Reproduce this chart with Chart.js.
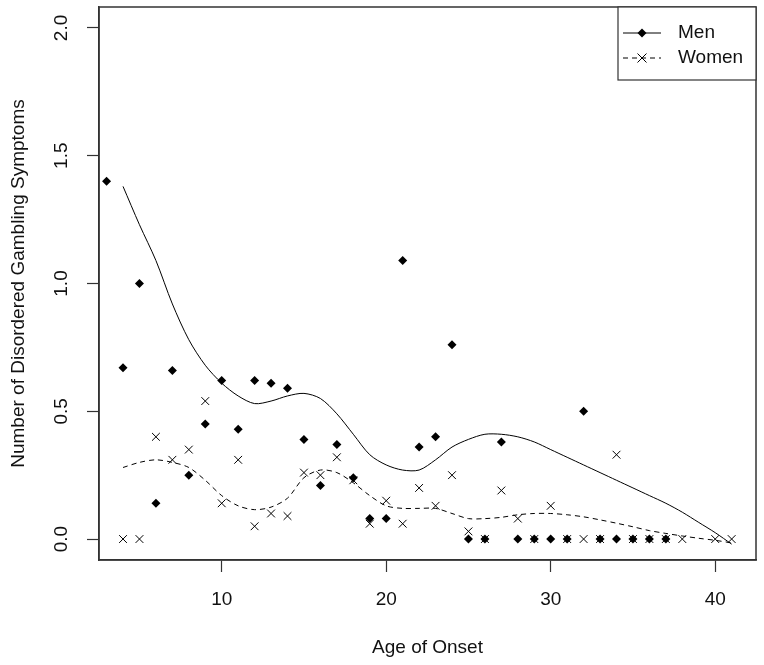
<!DOCTYPE html>
<html>
<head>
<meta charset="utf-8">
<script src="https://cdn.jsdelivr.net/npm/chart.js@4"></script>
<style>
  html, body { margin: 0; padding: 0; background: #fff; }
  #wrap { width: 764px; height: 665px; }
</style>
</head>
<body>
<div id="wrap"><canvas id="grafica" width="764" height="665"></canvas></div>
<script>
// datos
const edadHombres = [3, 4, 5, 6, 7, 8, 9, 10, 11, 12, 13, 14, 15, 16, 17, 18, 19, 20, 21, 22, 23, 24, 25, 26, 27, 28, 29, 30, 31, 32, 33, 34, 35, 36, 37];
const sintomasHombres = [1.40, 0.67, 1.00, 0.14, 0.66, 0.25, 0.45, 0.62, 0.43, 0.62, 0.61, 0.59, 0.39, 0.21, 0.37, 0.24, 0.08, 0.08, 1.09, 0.36, 0.40, 0.76, 0, 0, 0.38, 0, 0, 0, 0, 0.50, 0, 0, 0, 0, 0];

const edadMujeres = [4, 5, 6, 7, 8, 9, 10, 11, 12, 13, 14, 15, 16, 17, 18, 19, 20, 21, 22, 23, 24, 25, 26, 27, 28, 29, 30, 31, 32, 33, 34, 35, 36, 37, 38, 40, 41];
const sintomasMujeres = [0, 0, 0.40, 0.31, 0.35, 0.54, 0.14, 0.31, 0.05, 0.10, 0.09, 0.26, 0.25, 0.32, 0.23, 0.06, 0.15, 0.06, 0.20, 0.13, 0.25, 0.03, 0, 0.19, 0.08, 0, 0.13, 0, 0, 0, 0.33, 0, 0, 0, 0, 0, 0];

// curvas suavizadas (leidas punto a punto)
const edadCurva = [4, 5, 6, 7, 8, 9, 10, 11, 12, 13, 14, 15, 16, 17, 18, 19, 20, 21, 22, 23, 24, 25, 26, 27, 28, 29, 30, 31, 32, 33, 34, 35, 36, 37, 38, 39, 40, 41];
const curvaHombres = [1.38, 1.23, 1.09, 0.92, 0.78, 0.68, 0.61, 0.56, 0.53, 0.54, 0.56, 0.57, 0.55, 0.49, 0.41, 0.33, 0.29, 0.27, 0.27, 0.31, 0.36, 0.39, 0.41, 0.41, 0.40, 0.38, 0.35, 0.32, 0.29, 0.26, 0.23, 0.20, 0.17, 0.14, 0.105, 0.065, 0.025, -0.02];
const curvaMujeres = [0.28, 0.30, 0.31, 0.30, 0.28, 0.23, 0.17, 0.13, 0.115, 0.125, 0.16, 0.24, 0.27, 0.26, 0.22, 0.17, 0.13, 0.12, 0.12, 0.12, 0.10, 0.08, 0.08, 0.085, 0.095, 0.10, 0.10, 0.095, 0.087, 0.075, 0.062, 0.048, 0.033, 0.022, 0.012, 0.003, -0.005, -0.015];

const ticksX = [10, 20, 30, 40];
const ticksY = [0, 0.5, 1.0, 1.5, 2.0];

const fuente = "'Liberation Sans', Arial, sans-serif";
const tamFuente = 19;

function pares(xs, ys) {
    return xs.map((x, i) => ({ x: x, y: ys[i] }));
}

// caja alrededor del area y leyenda estilo R
const cajaYLeyenda = {
    id: 'cajaYLeyenda',
    afterDraw(chart) {
        const ctx = chart.ctx;
        const a = chart.chartArea;
        ctx.save();
        ctx.strokeStyle = '#333';
        ctx.lineWidth = 1.5;
        ctx.strokeRect(a.left, a.top, a.right - a.left, a.bottom - a.top);

        // leyenda
        const x0 = 618, y0 = a.top, x1 = a.right, y1 = 80;
        ctx.fillStyle = '#fff';
        ctx.fillRect(x0, y0, x1 - x0, y1 - y0);
        ctx.lineWidth = 1.2;
        ctx.strokeRect(x0, y0, x1 - x0, y1 - y0);

        ctx.strokeStyle = '#000';
        ctx.fillStyle = '#000';
        ctx.lineWidth = 1;
        // Men
        ctx.beginPath();
        ctx.moveTo(623, 33); ctx.lineTo(661, 33);
        ctx.stroke();
        ctx.beginPath();
        ctx.moveTo(642, 28.5); ctx.lineTo(646.5, 33); ctx.lineTo(642, 37.5); ctx.lineTo(637.5, 33);
        ctx.closePath();
        ctx.fill();
        // Women
        ctx.setLineDash([5, 4]);
        ctx.beginPath();
        ctx.moveTo(623, 58); ctx.lineTo(661, 58);
        ctx.stroke();
        ctx.setLineDash([]);
        ctx.beginPath();
        ctx.moveTo(637.5, 53.5); ctx.lineTo(646.5, 62.5);
        ctx.moveTo(646.5, 53.5); ctx.lineTo(637.5, 62.5);
        ctx.stroke();

        ctx.font = tamFuente + 'px ' + fuente;
        ctx.textBaseline = 'middle';
        ctx.textAlign = 'left';
        ctx.fillStyle = '#111';
        ctx.fillText('Men', 678, 33);
        ctx.fillText('Women', 678, 58);
        ctx.restore();
    }
};

new Chart(document.getElementById('grafica'), {
    type: 'scatter',
    data: {
        datasets: [
            {
                label: 'Men',
                data: pares(edadHombres, sintomasHombres),
                pointStyle: 'rectRot',
                pointRadius: 4.5,
                backgroundColor: '#000',
                borderColor: '#000',
                borderWidth: 0,
                showLine: false
            },
            {
                label: 'Women',
                data: pares(edadMujeres, sintomasMujeres),
                pointStyle: 'crossRot',
                pointRadius: 5.5,
                borderColor: '#000',
                borderWidth: 1,
                showLine: false
            },
            {
                label: 'Men ajuste',
                data: pares(edadCurva, curvaHombres),
                showLine: true,
                pointRadius: 0,
                borderColor: '#000',
                borderWidth: 1,
                tension: 0.3
            },
            {
                label: 'Women ajuste',
                data: pares(edadCurva, curvaMujeres),
                showLine: true,
                pointRadius: 0,
                borderColor: '#000',
                borderWidth: 1,
                borderDash: [5, 4],
                tension: 0.3
            }
        ]
    },
    options: {
        responsive: false,
        animation: false,
        layout: { padding: { top: 7, right: 8, left: 0, bottom: 0 } },
        plugins: {
            legend: { display: false },
            tooltip: { enabled: false }
        },
        scales: {
            x: {
                type: 'linear',
                min: 2.54,
                max: 42.48,
                afterBuildTicks: (s) => { s.ticks = ticksX.map(v => ({ value: v })); },
                afterFit: (s) => { s.height = 105; s.paddingLeft = 0; s.paddingRight = 0; },
                ticks: {
                    color: '#111',
                    padding: 16,
                    font: { family: fuente, size: tamFuente },
                    callback: (v) => String(v)
                },
                grid: { drawOnChartArea: false, drawTicks: true, tickLength: 12, color: '#333', tickWidth: 1.2 },
                border: { display: true, color: '#333', width: 1.5 },
                title: {
                    display: true,
                    text: 'Age of Onset',
                    color: '#111',
                    font: { family: fuente, size: tamFuente },
                    padding: { top: 0, bottom: 6 }
                }
            },
            y: {
                type: 'linear',
                min: -0.082,
                max: 2.082,
                afterBuildTicks: (s) => { s.ticks = ticksY.map(v => ({ value: v })); },
                afterFit: (s) => { s.width = 99; s.paddingTop = 0; s.paddingBottom = 0; },
                ticks: {
                    color: '#111',
                    padding: 12,
                    minRotation: 90,
                    maxRotation: 90,
                    crossAlign: 'center',
                    font: { family: fuente, size: tamFuente },
                    callback: (v) => v.toFixed(1)
                },
                grid: { drawOnChartArea: false, drawTicks: true, tickLength: 12, color: '#333', tickWidth: 1.2 },
                border: { display: true, color: '#333', width: 1.5 },
                title: {
                    display: true,
                    text: 'Number of Disordered Gambling Symptoms',
                    color: '#111',
                    font: { family: fuente, size: tamFuente },
                    padding: { top: 7, bottom: 0 }
                }
            }
        }
    },
    plugins: [cajaYLeyenda]
});
</script>
</body>
</html>
